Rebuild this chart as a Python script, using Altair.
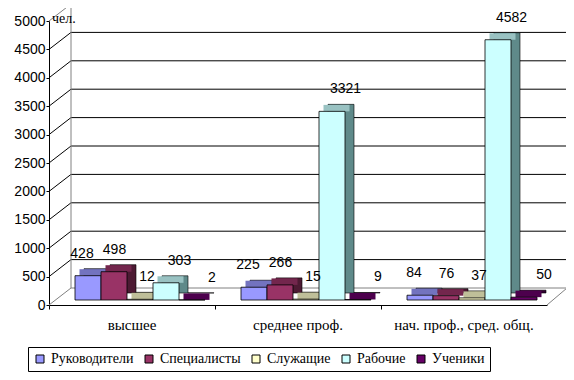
import altair as alt
import pandas as pd

categories = ["высшее", "среднее проф.", "нач. проф., сред. общ."]
series = ["Руководители", "Специалисты", "Служащие", "Рабочие", "Ученики"]
values = {
    "Руководители": [428, 225, 84],
    "Специалисты": [498, 266, 76],
    "Служащие": [12, 15, 37],
    "Рабочие": [303, 3321, 4582],
    "Ученики": [2, 9, 50],
}
front_colors = ["#9999FF", "#993366", "#FFFFCC", "#CCFFFF", "#660066"]
top_colors = ["#7373BF", "#73264D", "#BFBF99", "#99C2C2", "#4D004D"]
side_colors = ["#4D4D80", "#4D1A33", "#808066", "#5F8A8A", "#330033"]
y_ticks = list(range(0, 5001, 500))
unit_label = "чел."

SERIF = "Liberation Serif"
SANS = "Liberation Sans"
W, H = 498, 284
DX, DY = 22, -17  # back wall shift

rows = []
for si, s in enumerate(series):
    for ci, c in enumerate(categories):
        rows.append({"cat": c, "ser": s, "val": values[s][ci],
                     "top": top_colors[si], "side": side_colors[si]})
df = pd.DataFrame(rows)

ticks_df = pd.DataFrame({"v": y_ticks})
ticks_df["lc"] = ["#808080" if v in (0, 5000) else "#000000" for v in y_ticks]
edge_df = pd.DataFrame({"lo": [0], "hi": [5000]})

yscale = alt.Scale(domain=[0, 5000], nice=False, zero=True)
xscale = alt.Scale(domain=categories, paddingInner=0, paddingOuter=0)

x_axis = alt.Axis(title=None, bandPosition=0, tickSize=4,
                  domainColor="black", tickColor="black", labelFont=SERIF,
                  labelFontSize=15, labelColor="black", labelPadding=8,
                  labelAngle=0, grid=False)
y_axis = alt.Axis(title=None, values=y_ticks, format="d", labelOverlap=False,
                  tickSize=3, domainColor="black",
                  tickColor="black", labelFont=SANS, labelFontSize=14,
                  labelColor="black", labelPadding=1, grid=False)


def Y(field):
    return alt.Y(field, scale=yscale, axis=y_axis)


def X():
    return alt.X("cat:N", sort=categories, scale=xscale, axis=x_axis)


def xoff(lo):
    return alt.XOffset("ser:N", sort=series,
                       scale=alt.Scale(domain=series, range=[lo, lo + 130],
                                       paddingInner=0, paddingOuter=0))


grid = alt.Chart(ticks_df).mark_rule(yOffset=DY, strokeWidth=1).encode(
    x=alt.value(DX), x2=alt.value(W + DX), y=Y("v:Q"),
    color=alt.Color("lc:N", scale=None),
)
diag = alt.Chart(ticks_df).mark_rule(y2Offset=DY, strokeWidth=1).encode(
    x=alt.value(0), x2=alt.value(DX), y=Y("v:Q"), y2="v:Q",
    color=alt.Color("lc:N", scale=None),
)
left_edge = alt.Chart(edge_df).mark_rule(yOffset=DY, y2Offset=DY, color="#808080").encode(
    x=alt.value(DX), y=Y("lo:Q"), y2="hi:Q")
right_edge = alt.Chart(edge_df).mark_rule(yOffset=DY, y2Offset=DY, color="#808080").encode(
    x=alt.value(W + DX), y=Y("lo:Q"), y2="hi:Q")
floor_diag = alt.Chart(edge_df).mark_rule(y2Offset=DY, color="#808080").encode(
    x=alt.value(W), x2=alt.value(W + DX - 2), y=Y("lo:Q"), y2="lo:Q")

side = alt.Chart(df).mark_bar(yOffset=-12, y2Offset=-12, stroke="black", strokeWidth=0.6).encode(
    x=X(), xOffset=xoff(35), y=Y("val:Q"), y2=alt.datum(0),
    color=alt.Color("side:N", scale=None),
)
top = alt.Chart(df).mark_bar(yOffset=-11.5, y2Offset=-5).encode(
    x=X(), xOffset=xoff(30.5), y=Y("val:Q"), y2="val:Q",
    color=alt.Color("top:N", scale=None),
)
front = alt.Chart(df).mark_bar(yOffset=-5, y2Offset=-5, stroke="black", strokeWidth=0.8).encode(
    x=X(), xOffset=xoff(26), y=Y("val:Q"), y2=alt.datum(0),
    color=alt.Color("ser:N", sort=series,
                    scale=alt.Scale(domain=series, range=front_colors),
                    legend=alt.Legend(title=None, orient="none", legendX=-21, legendY=326,
                                      direction="horizontal", columns=5,
                                      symbolType="square", symbolSize=64,
                                      symbolStrokeColor="black", symbolStrokeWidth=1,
                                      labelFont=SERIF, labelFontSize=14, labelColor="black",
                                      labelOffset=4, columnPadding=8, padding=5,
                                      strokeColor="black", fillColor="white")),
)
labels = alt.Chart(df).mark_text(dx=7, dy=-20, baseline="bottom", align="center",
                                 font=SANS, fontSize=14, color="black").encode(
    x=X(), xOffset=xoff(26), y=Y("val:Q"), text="val:Q",
)
unit = alt.Chart(edge_df).mark_text(align="left", baseline="middle", dx=3, dy=-2,
                                    font=SERIF, fontSize=14, color="black").encode(
    x=alt.value(0), y=Y("hi:Q"), text=alt.value(unit_label))

chart = alt.layer(grid, diag, left_edge, right_edge, floor_diag, side, top, front, labels, unit).resolve_scale(
    xOffset="independent", color="independent"
).properties(
    width=W, height=H,
    autosize=alt.AutoSizeParams(type="none"),
    padding={"left": 41, "top": 13, "right": 19, "bottom": 67},
    background="white",
).configure_view(strokeWidth=0)

chart.save("out.html", embed_options={"renderer": "svg", "actions": False})
